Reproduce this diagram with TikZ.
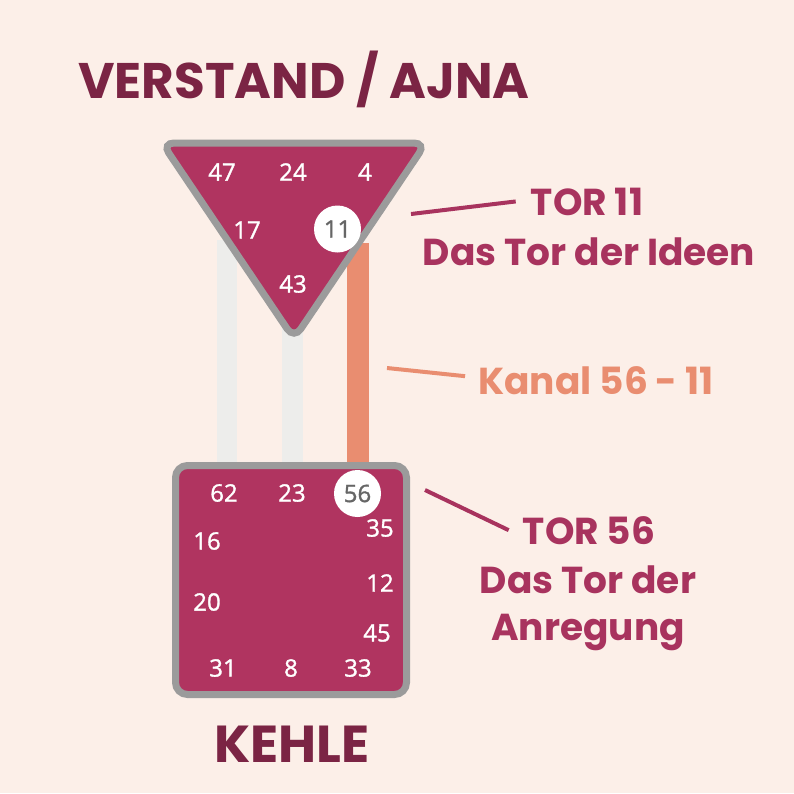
\documentclass[tikz,border=0pt]{standalone}
\usepackage{fontspec}
\usepackage{xcolor}
\newfontfamily\labelfont{Poppins}
\newfontfamily\numfont{Open Sans}[FakeBold=1.3]
\definecolor{bg}{HTML}{FCEFE8}
\definecolor{centre}{HTML}{B03460}
\definecolor{rim}{HTML}{9B9B9B}
\definecolor{headline}{HTML}{7B2444}
\definecolor{gate}{HTML}{A8335E}
\definecolor{kanal}{HTML}{E98D70}
\definecolor{idle}{HTML}{EDEDEB}

\begin{document}
\begin{tikzpicture}[x=1pt,y=-1pt,
    centreshape/.style={draw=rim,line width=7pt,fill=centre},
    num/.style={text=white,inner sep=0pt,font=\numfont\fontsize{24}{24}\selectfont},
    active/.style={circle,fill=white,text=black!60,minimum size=47pt,inner sep=0pt,font=\numfont\fontsize{24}{24}\selectfont},
    head/.style={anchor=base,text=headline,inner sep=0pt,font=\labelfont\bfseries\fontsize{50}{50}\selectfont},
    gatelabel/.style={anchor=base,text=gate,inner sep=0pt,font=\labelfont\bfseries\fontsize{37.5}{37.5}\selectfont},
    gateline/.style={gate,line width=4pt}]
  \fill[bg] (0,0) rectangle (794,793);
  \useasboundingbox (0,0) rectangle (794,793);

  % channels
  \fill[idle] (217,240) rectangle (237,470);
  \fill[idle] (282,300) rectangle (303,470);
  \fill[kanal] (347,243) rectangle (369,470);

  % Ajna
  \draw[centreshape,rounded corners=12pt] (162,143) -- (426,143) -- (294,339) -- cycle;
  \node[num] (n47) at (222,172) {47};
  \node[num] (n24) at (293,172) {24};
  \node[num] (n4) at (365,172) {4};
  \node[num] (n17) at (247,230) {17};
  \node[active] (n11) at (337.5,229) {11};
  \node[num] (n43) at (293,284) {43};

  % Kehle
  \draw[centreshape,rounded corners=12pt] (175.5,465.5) rectangle (406.5,694.5);
  \node[num] (n62) at (224,493) {62};
  \node[num] (n23) at (292,493) {23};
  \node[active] (n56) at (357.5,493.5) {56};
  \node[num] (n35) at (380,528) {35};
  \node[num] (n16) at (207,541) {16};
  \node[num] (n12) at (380,583) {12};
  \node[num] (n20) at (207,602) {20};
  \node[num] (n45) at (377,633) {45};
  \node[num] (n31) at (223,668) {31};
  \node[num] (n8) at (291,668) {8};
  \node[num] (n33) at (358,668) {33};

  % titles
  \node[head] (ajna) at (304,98) {VERSTAND / AJNA};
  \node[head,font=\labelfont\bfseries\fontsize{52}{52}\selectfont] (kehle) at (292,762) {KEHLE};

  % labels
  \node[gatelabel] (tor11) at (587,215) {TOR 11};
  \node[gatelabel] (idee) at (589,265) {Das Tor der Ideen};
  \node[gatelabel,text=kanal] (kanal5611) at (596,394) {Kanal 56 - 11};
  \node[gatelabel] (tor56) at (589,544) {TOR 56};
  \node[gatelabel] (anr1) at (588,593) {Das Tor der};
  \node[gatelabel] (anr2) at (588,640) {Anregung};

  \coordinate (p11) at (411,214);
  \coordinate (pk) at (387,368);
  \coordinate (p56) at (425,490);
  \draw[gateline] (p11) -- ([xshift=-15pt]tor11.west);
  \draw[kanal,line width=4pt] (pk) -- ([xshift=-13pt,yshift=4pt]kanal5611.west);
  \draw[gateline] (p56) -- ([xshift=-14pt]tor56.west);
\end{tikzpicture}
\end{document}
